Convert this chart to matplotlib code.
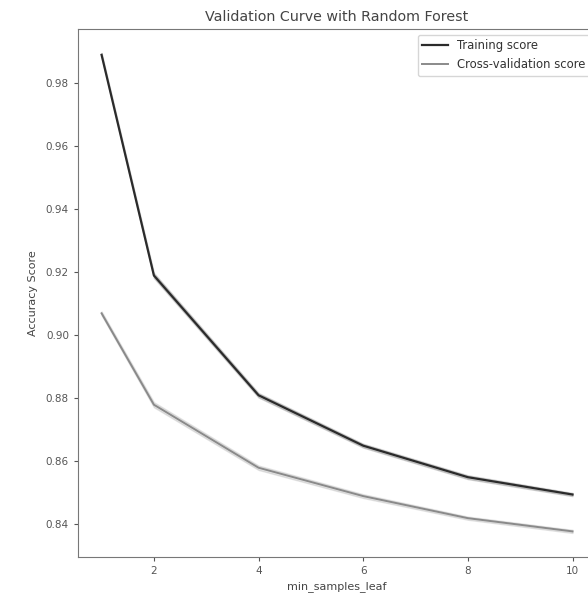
import numpy as np
import matplotlib
matplotlib.use("Agg")
import matplotlib.pyplot as plt

# validation curve values
param_range = [1, 2, 4, 6, 8, 10]
train_mean = [0.989, 0.919, 0.881, 0.865, 0.855, 0.8495]
train_std = [0.0006, 0.0008, 0.0007, 0.0006, 0.0006, 0.0005]
test_mean = [0.907, 0.878, 0.858, 0.849, 0.842, 0.8378]
test_std = [0.0006, 0.0008, 0.0007, 0.0006, 0.0005, 0.0005]
xticks = [2, 4, 6, 8, 10]
yticks = [0.84, 0.86, 0.88, 0.90, 0.92, 0.94, 0.96, 0.98]

train_mean = np.array(train_mean)
train_std = np.array(train_std)
test_mean = np.array(test_mean)
test_std = np.array(test_std)

fig = plt.figure(figsize=(5.88, 5.95), dpi=100)
# axes runs past the right edge, as in the cropped reference
ax = fig.add_axes([0.1327, 0.0639, 0.881, 0.8874])

ax.plot(param_range, train_mean, label="Training score", color="#2b2b2b", lw=1.6)
ax.plot(param_range, test_mean, label="Cross-validation score", color="#8a8a8a", lw=1.4)
ax.fill_between(param_range, train_mean - train_std, train_mean + train_std, color="#555555", alpha=0.25)
ax.fill_between(param_range, test_mean - test_std, test_mean + test_std, color="#aaaaaa", alpha=0.3)

ax.set_xticks(xticks)
ax.set_yticks(yticks)
ax.set_yticklabels([f"{v:.2f}" for v in yticks])
ax.tick_params(labelsize=7.5, colors="#555555", length=3)
for s in ax.spines.values():
    s.set_color("#777777")

ax.set_title("Validation Curve with Random Forest", fontsize=10.3, color="#444444", pad=6)
ax.set_xlabel("min_samples_leaf", fontsize=8, color="#444444", labelpad=4)
ax.set_ylabel("Accuracy Score", fontsize=8, color="#444444", labelpad=6)

leg = ax.legend(loc="upper right", fontsize=8.4, frameon=True, handlelength=2.2)
for t in leg.get_texts():
    t.set_color("#333333")

fig.savefig("out.png", dpi=100)
